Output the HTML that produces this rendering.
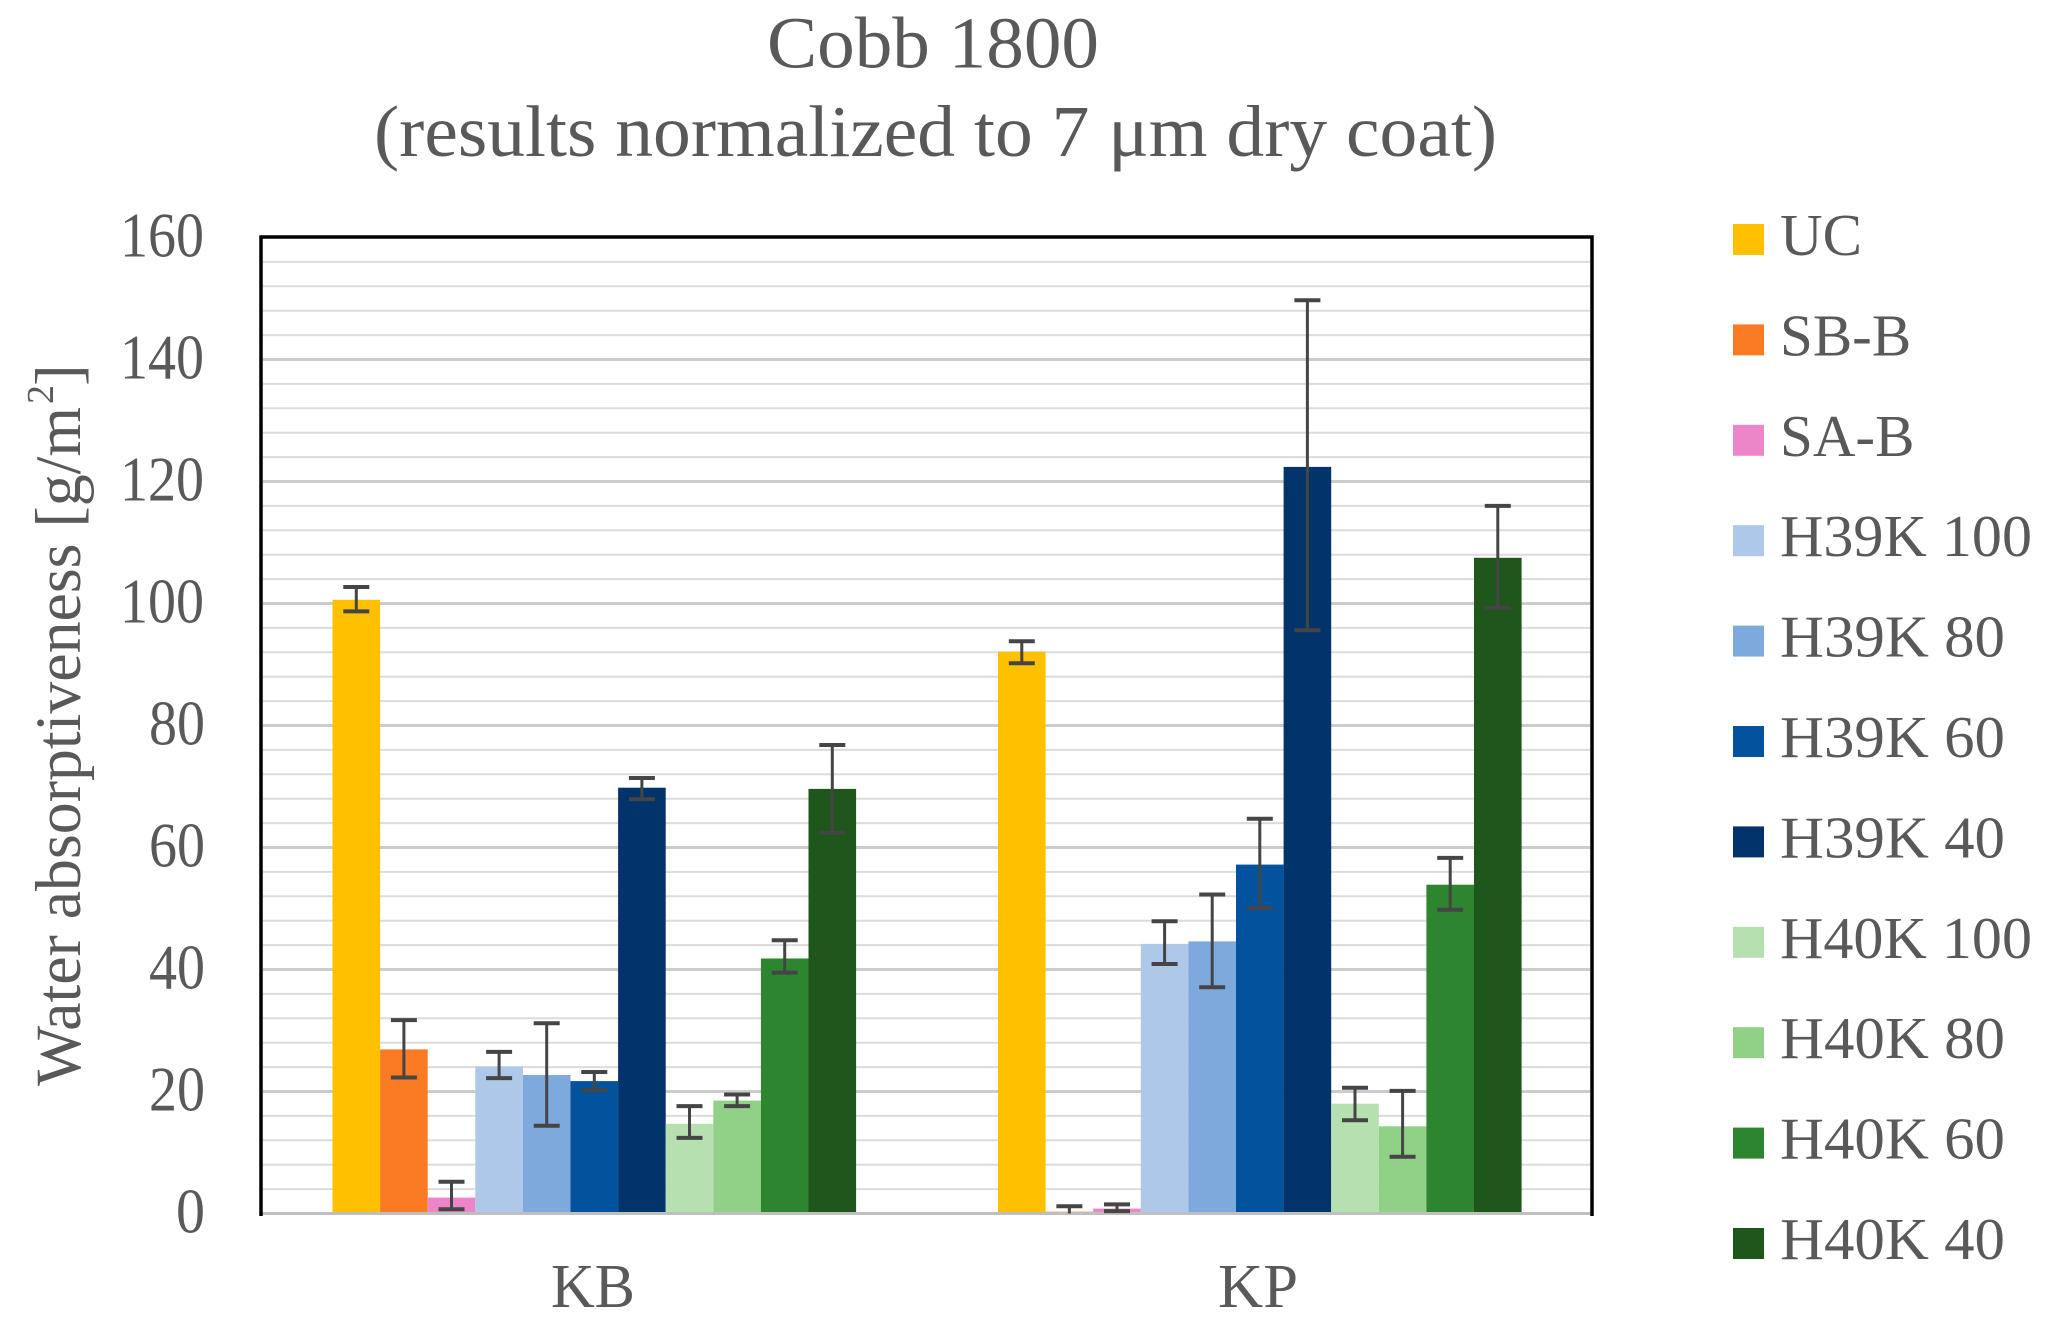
<!DOCTYPE html>
<html>
<head>
<meta charset="utf-8">
<style>
  html, body { margin:0; padding:0; background:#ffffff; }
  svg { display:block; }
  text { font-family: "Liberation Serif", "DejaVu Serif", serif; fill:#595959; }
</style>
</head>
<body>
<svg width="2056" height="1341" viewBox="0 0 2056 1341" xmlns="http://www.w3.org/2000/svg">
  <rect x="0" y="0" width="2056" height="1341" fill="#ffffff"/>

  <!-- Title -->
  <text x="933" y="67.5" font-size="73" text-anchor="middle" textLength="332" lengthAdjust="spacingAndGlyphs">Cobb 1800</text>
  <text x="935.5" y="156" font-size="73" text-anchor="middle" textLength="1123" lengthAdjust="spacingAndGlyphs">(results normalized to 7 μm dry coat)</text>

  <!-- Minor gridlines -->
  <g stroke="#dcdcdc" stroke-width="2">
    <line x1="263" x2="1590" y1="1189.1" y2="1189.1"/>
    <line x1="263" x2="1590" y1="1164.7" y2="1164.7"/>
    <line x1="263" x2="1590" y1="1140.3" y2="1140.3"/>
    <line x1="263" x2="1590" y1="1115.9" y2="1115.9"/>
    <line x1="263" x2="1590" y1="1067.1" y2="1067.1"/>
    <line x1="263" x2="1590" y1="1042.7" y2="1042.7"/>
    <line x1="263" x2="1590" y1="1018.3" y2="1018.3"/>
    <line x1="263" x2="1590" y1="993.9" y2="993.9"/>
    <line x1="263" x2="1590" y1="945.1" y2="945.1"/>
    <line x1="263" x2="1590" y1="920.7" y2="920.7"/>
    <line x1="263" x2="1590" y1="896.3" y2="896.3"/>
    <line x1="263" x2="1590" y1="871.9" y2="871.9"/>
    <line x1="263" x2="1590" y1="823.1" y2="823.1"/>
    <line x1="263" x2="1590" y1="798.7" y2="798.7"/>
    <line x1="263" x2="1590" y1="774.3" y2="774.3"/>
    <line x1="263" x2="1590" y1="749.9" y2="749.9"/>
    <line x1="263" x2="1590" y1="701.1" y2="701.1"/>
    <line x1="263" x2="1590" y1="676.7" y2="676.7"/>
    <line x1="263" x2="1590" y1="652.3" y2="652.3"/>
    <line x1="263" x2="1590" y1="627.9" y2="627.9"/>
    <line x1="263" x2="1590" y1="579.1" y2="579.1"/>
    <line x1="263" x2="1590" y1="554.7" y2="554.7"/>
    <line x1="263" x2="1590" y1="530.3" y2="530.3"/>
    <line x1="263" x2="1590" y1="505.9" y2="505.9"/>
    <line x1="263" x2="1590" y1="457.1" y2="457.1"/>
    <line x1="263" x2="1590" y1="432.7" y2="432.7"/>
    <line x1="263" x2="1590" y1="408.3" y2="408.3"/>
    <line x1="263" x2="1590" y1="383.9" y2="383.9"/>
    <line x1="263" x2="1590" y1="335.1" y2="335.1"/>
    <line x1="263" x2="1590" y1="310.7" y2="310.7"/>
    <line x1="263" x2="1590" y1="286.3" y2="286.3"/>
    <line x1="263" x2="1590" y1="261.9" y2="261.9"/>
  </g>
  <!-- Major gridlines -->
  <g stroke="#cccccc" stroke-width="3">
    <line x1="263" x2="1590" y1="1091.5" y2="1091.5"/>
    <line x1="263" x2="1590" y1="969.5" y2="969.5"/>
    <line x1="263" x2="1590" y1="847.5" y2="847.5"/>
    <line x1="263" x2="1590" y1="725.5" y2="725.5"/>
    <line x1="263" x2="1590" y1="603.5" y2="603.5"/>
    <line x1="263" x2="1590" y1="481.5" y2="481.5"/>
    <line x1="263" x2="1590" y1="359.5" y2="359.5"/>
  </g>

  <!-- Bars KB -->
  <rect x="332.5" y="599.8" width="47.6" height="613.7" fill="#FFC000"/>
  <rect x="380.1" y="1049.4" width="47.6" height="164.1" fill="#FB7B25"/>
  <rect x="427.7" y="1197.6" width="47.6" height="15.9" fill="#EC86C8"/>
  <rect x="475.3" y="1066.5" width="47.6" height="147.0" fill="#ADC8E9"/>
  <rect x="522.9" y="1075.0" width="47.6" height="138.5" fill="#7EA9DD"/>
  <rect x="570.5" y="1081.1" width="47.6" height="132.4" fill="#02529D"/>
  <rect x="618.1" y="787.7" width="47.6" height="425.8" fill="#02336A"/>
  <rect x="665.7" y="1123.8" width="47.6" height="89.7" fill="#B6E0AF"/>
  <rect x="713.3" y="1100.6" width="47.6" height="112.9" fill="#90D187"/>
  <rect x="760.9" y="958.5" width="47.6" height="255.0" fill="#2E8530"/>
  <rect x="808.5" y="788.9" width="47.6" height="424.6" fill="#1E561B"/>

  <!-- Bars KP -->
  <rect x="998" y="651.7" width="47.6" height="561.8" fill="#FFC000"/>
  <rect x="1045.6" y="1211.7" width="47.6" height="1.8" fill="#FB7B25"/>
  <rect x="1093.2" y="1208.6" width="47.6" height="4.9" fill="#EC86C8"/>
  <rect x="1140.8" y="943.9" width="47.6" height="269.6" fill="#ADC8E9"/>
  <rect x="1188.4" y="941.4" width="47.6" height="272.1" fill="#7EA9DD"/>
  <rect x="1236" y="864.6" width="47.6" height="348.9" fill="#02529D"/>
  <rect x="1283.6" y="466.9" width="47.6" height="746.6" fill="#02336A"/>
  <rect x="1331.2" y="1103.7" width="47.6" height="109.8" fill="#B6E0AF"/>
  <rect x="1378.8" y="1126.3" width="47.6" height="87.2" fill="#90D187"/>
  <rect x="1426.4" y="884.7" width="47.6" height="328.8" fill="#2E8530"/>
  <rect x="1474" y="557.8" width="47.6" height="655.7" fill="#1E561B"/>

  <!-- Axis baseline -->
  <line x1="261" x2="1592" y1="1213.5" y2="1213.5" stroke="#bfbfbf" stroke-width="3"/>

  <!-- Error bars: vertical lines -->
  <g stroke="#454545" stroke-width="3" fill="none">
    <path d="M356.3 587.0V611.4 M403.9 1020.1V1077.5 M451.5 1181.8V1209.2 M499.1 1051.9V1078.1 M546.7 1023.2V1125.7 M594.3 1072.0V1090.3 M641.9 778.0V799.3 M689.5 1106.1V1137.9 M737.1 1094.5V1106.1 M784.7 940.2V972.6 M832.3 745.0V832.9"/>
    <path d="M1021.8 641.3V663.3 M1069.4 1206.2V1213.5 M1117 1204.4V1211.1 M1164.6 921.3V964.0 M1212.2 894.5V987.2 M1259.8 818.8V907.9 M1307.4 300.3V630.3 M1355 1087.8V1120.2 M1402.6 1090.9V1156.8 M1450.2 857.9V909.7 M1497.8 505.9V607.8"/>
  </g>
  <!-- Error bars: caps -->
  <g stroke="#454545" stroke-width="4" fill="none">
    <path d="M343.3 587.0h26 M343.3 611.4h26 M390.9 1020.1h26 M390.9 1077.5h26 M438.5 1181.8h26 M438.5 1209.2h26 M486.1 1051.9h26 M486.1 1078.1h26 M533.7 1023.2h26 M533.7 1125.7h26 M581.3 1072.0h26 M581.3 1090.3h26 M628.9 778.0h26 M628.9 799.3h26 M676.5 1106.1h26 M676.5 1137.9h26 M724.1 1094.5h26 M724.1 1106.1h26 M771.7 940.2h26 M771.7 972.6h26 M819.3 745.0h26 M819.3 832.9h26"/>
    <path d="M1008.8 641.3h26 M1008.8 663.3h26 M1056.4 1206.2h26 M1104 1204.4h26 M1104 1211.1h26 M1151.6 921.3h26 M1151.6 964.0h26 M1199.2 894.5h26 M1199.2 987.2h26 M1246.8 818.8h26 M1246.8 907.9h26 M1294.4 300.3h26 M1294.4 630.3h26 M1342 1087.8h26 M1342 1120.2h26 M1389.6 1090.9h26 M1389.6 1156.8h26 M1437.2 857.9h26 M1437.2 909.7h26 M1484.8 505.9h26 M1484.8 607.8h26"/>
  </g>

  <!-- Plot frame (left, top, right) -->
  <path d="M261 1216 V237 H1592 V1216" fill="none" stroke="#000000" stroke-width="3.5"/>

  <!-- Y tick labels -->
  <g font-size="64" text-anchor="end">
    <text x="205" y="1232.5" textLength="29" lengthAdjust="spacingAndGlyphs">0</text>
    <text x="205" y="1110.5" textLength="56" lengthAdjust="spacingAndGlyphs">20</text>
    <text x="205" y="988.5" textLength="56" lengthAdjust="spacingAndGlyphs">40</text>
    <text x="205" y="866.5" textLength="56" lengthAdjust="spacingAndGlyphs">60</text>
    <text x="205" y="744.5" textLength="56" lengthAdjust="spacingAndGlyphs">80</text>
    <text x="204" y="622.5" textLength="84" lengthAdjust="spacingAndGlyphs">100</text>
    <text x="204" y="500.5" textLength="84" lengthAdjust="spacingAndGlyphs">120</text>
    <text x="204" y="378.5" textLength="84" lengthAdjust="spacingAndGlyphs">140</text>
    <text x="204" y="256.5" textLength="84" lengthAdjust="spacingAndGlyphs">160</text>
  </g>

  <!-- Y axis title -->
  <g transform="translate(80,1086) rotate(-90)">
    <text x="0" y="0" font-size="65" textLength="679" lengthAdjust="spacingAndGlyphs">Water absorptiveness [g/m</text>
    <text x="682" y="-27" font-size="38">2</text>
    <text x="700" y="0" font-size="65">]</text>
  </g>

  <!-- Category labels -->
  <text x="593" y="1307" font-size="62" text-anchor="middle" textLength="84" lengthAdjust="spacingAndGlyphs">KB</text>
  <text x="1258" y="1307" font-size="62" text-anchor="middle" textLength="80" lengthAdjust="spacingAndGlyphs">KP</text>

  <!-- Legend -->
  <g>
    <rect x="1733" y="224" width="31" height="31" fill="#FFC000"/>
    <rect x="1733" y="324.4" width="31" height="31" fill="#FB7B25"/>
    <rect x="1733" y="424.8" width="31" height="31" fill="#EC86C8"/>
    <rect x="1733" y="525.2" width="31" height="31" fill="#ADC8E9"/>
    <rect x="1733" y="625.6" width="31" height="31" fill="#7EA9DD"/>
    <rect x="1733" y="726" width="31" height="31" fill="#02529D"/>
    <rect x="1733" y="826.4" width="31" height="31" fill="#02336A"/>
    <rect x="1733" y="926.8" width="31" height="31" fill="#B6E0AF"/>
    <rect x="1733" y="1027.2" width="31" height="31" fill="#90D187"/>
    <rect x="1733" y="1127.6" width="31" height="31" fill="#2E8530"/>
    <rect x="1733" y="1228" width="31" height="31" fill="#1E561B"/>
  </g>
  <g font-size="59">
    <text x="1780" y="255">UC</text>
    <text x="1780" y="355.4">SB-B</text>
    <text x="1780" y="455.8">SA-B</text>
    <text x="1780" y="556.2" textLength="252" lengthAdjust="spacingAndGlyphs">H39K 100</text>
    <text x="1780" y="656.6" textLength="225" lengthAdjust="spacingAndGlyphs">H39K 80</text>
    <text x="1780" y="757" textLength="225" lengthAdjust="spacingAndGlyphs">H39K 60</text>
    <text x="1780" y="857.4" textLength="225" lengthAdjust="spacingAndGlyphs">H39K 40</text>
    <text x="1780" y="957.8" textLength="252" lengthAdjust="spacingAndGlyphs">H40K 100</text>
    <text x="1780" y="1058.2" textLength="225" lengthAdjust="spacingAndGlyphs">H40K 80</text>
    <text x="1780" y="1158.6" textLength="225" lengthAdjust="spacingAndGlyphs">H40K 60</text>
    <text x="1780" y="1259" textLength="225" lengthAdjust="spacingAndGlyphs">H40K 40</text>
  </g>
</svg>
</body>
</html>
